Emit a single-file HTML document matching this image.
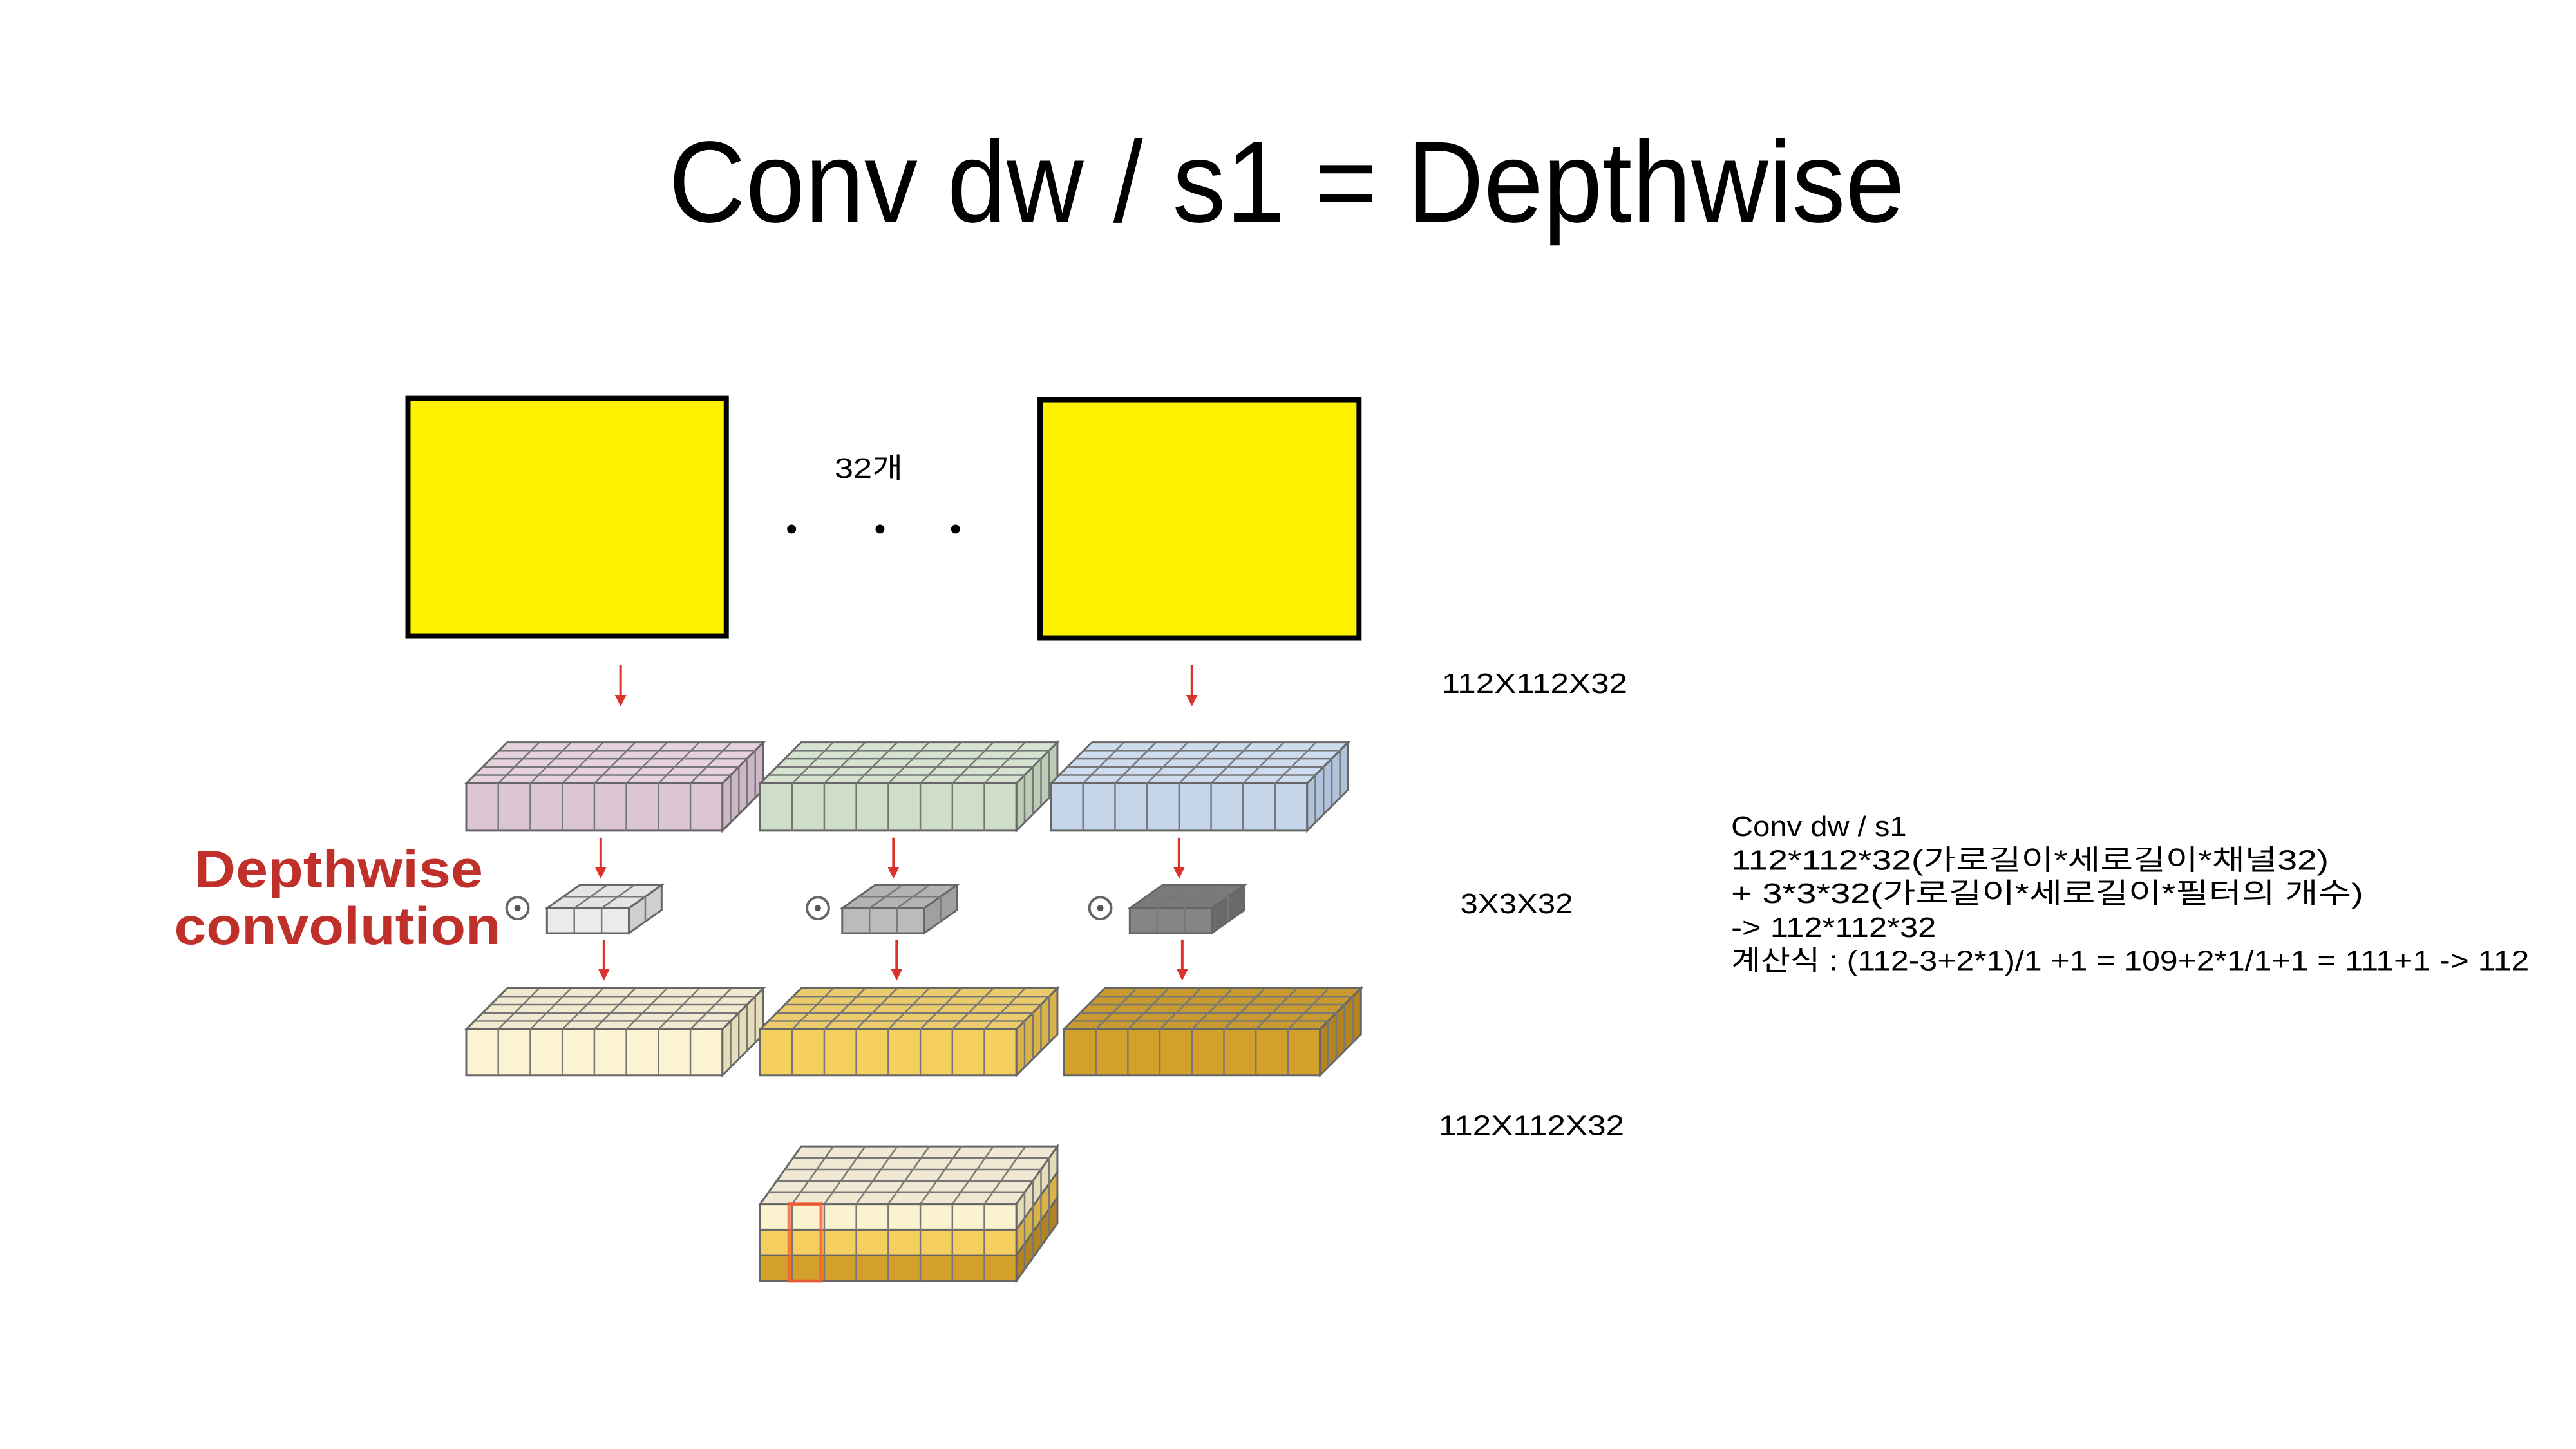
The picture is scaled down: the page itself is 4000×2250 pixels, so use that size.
<!DOCTYPE html>
<html><head><meta charset="utf-8"><style>
html,body{margin:0;padding:0;background:#fff;}
svg{display:block;}
text{font-family:"Liberation Sans","Noto Sans CJK KR",sans-serif;}
</style></head><body>
<svg id="s" width="4000" height="2250" viewBox="0 0 4000 2250" xmlns="http://www.w3.org/2000/svg">
<rect width="4000" height="2250" fill="#fff"/>
<g transform="scale(0.9945)">
<text x="1044" y="346" font-size="180" textLength="1930" lengthAdjust="spacingAndGlyphs" fill="#000">Conv dw / s1 = Depthwise</text>
<rect x="637" y="622" width="497" height="371" fill="#fff200" stroke="#000" stroke-width="8"/>
<rect x="1624" y="624" width="498" height="372" fill="#fff200" stroke="#000" stroke-width="8"/>
<text x="1303" y="746" font-size="44" textLength="107" lengthAdjust="spacingAndGlyphs">32개</text>
<circle cx="1236" cy="826" r="7"/><circle cx="1374" cy="826" r="7"/><circle cx="1492" cy="826" r="7"/>
<text x="2251" y="1082" font-size="44" textLength="290" lengthAdjust="spacingAndGlyphs">112X112X32</text>
<text x="2280" y="1426" font-size="44" textLength="176" lengthAdjust="spacingAndGlyphs">3X3X32</text>
<text x="2246" y="1772" font-size="44" textLength="290" lengthAdjust="spacingAndGlyphs">112X112X32</text>
<g font-size="44" fill="#000">
<text x="2703" y="1305" textLength="274" lengthAdjust="spacingAndGlyphs">Conv dw / s1</text>
<text x="2703" y="1358" textLength="933" lengthAdjust="spacingAndGlyphs">112*112*32(가로길이*세로길이*채널32)</text>
<text x="2703" y="1410" textLength="987" lengthAdjust="spacingAndGlyphs">+ 3*3*32(가로길이*세로길이*필터의 개수)</text>
<text x="2703" y="1463" textLength="320" lengthAdjust="spacingAndGlyphs">-&gt; 112*112*32</text>
<text x="2703" y="1515" textLength="1246" lengthAdjust="spacingAndGlyphs">계산식 : (112-3+2*1)/1 +1 = 109+2*1/1+1 = 111+1 -&gt; 112</text>
</g>
<g font-size="82" font-weight="bold" fill="#c0302a">
<text x="303" y="1385" textLength="451" lengthAdjust="spacingAndGlyphs">Depthwise</text>
<text x="272" y="1474" textLength="510" lengthAdjust="spacingAndGlyphs">convolution</text>
</g>
<g fill="#fff" stroke="#666" stroke-width="4">
<circle cx="808" cy="1418" r="17"/><circle cx="1277" cy="1418" r="17"/><circle cx="1718" cy="1418" r="17"/>
</g>
<g fill="#555"><circle cx="808" cy="1418" r="5"/><circle cx="1277" cy="1418" r="5"/><circle cx="1718" cy="1418" r="5"/></g>
<g id="cubes"></g>
</g>
</svg>
<script>
var NS="http://www.w3.org/2000/svg",g=document.getElementById('cubes');
function el(t,a){var e=document.createElementNS(NS,t);for(var k in a)e.setAttribute(k,a[k]);g.appendChild(e);return e;}
function line(x1,y1,x2,y2,c,w){el('line',{x1:x1,y1:y1,x2:x2,y2:y2,stroke:c||'#777','stroke-width':w||2.5});}
function slab(x,y,w,h,dx,dy,cols,rows,top,fronts,side){
 var layers=fronts.length,lh=h/layers;
 el('polygon',{points:[x,y+dy,x+dx,y,x+w+dx,y,x+w,y+dy].join(' '),fill:top,stroke:'#666','stroke-width':3});
 for(var l=0;l<layers;l++){
  el('rect',{x:x,y:y+dy+l*lh,width:w,height:lh,fill:fronts[l],stroke:'#666','stroke-width':3});
  el('polygon',{points:[x+w,y+dy+l*lh,x+w+dx,y+l*lh,x+w+dx,y+(l+1)*lh,x+w,y+dy+(l+1)*lh].join(' '),fill:side[l]||side[0],stroke:'#666','stroke-width':3});
 }
 for(var i=1;i<cols;i++){var xi=x+i*w/cols;line(xi,y+dy,xi,y+dy+h);line(xi,y+dy,xi+dx,y);}
 for(var j=1;j<rows;j++){var t=j/rows;line(x+dx*t,y+dy-dy*t,x+w+dx*t,y+dy-dy*t);line(x+w+dx*t,y+dy-dy*t,x+w+dx*t,y+dy-dy*t+h);}
}
function arrow(x,y1,y2){line(x,y1,x,y2-14,'#d9342b',4);el('polygon',{points:[x-9,y2-18,x+9,y2-18,x,y2].join(' '),fill:'#d9342b'});}
slab(728,1159,400,74,64,64,8,5,'#e6d2de',['#dcc6d4'],['#cdb6c6']);
slab(1187,1159,400,74,64,64,8,5,'#d6e3cf',['#cfdec8'],['#bccdb5']);
slab(1641,1159,400,74,64,64,8,5,'#cddcee',['#c5d6ea'],['#afc3da']);
slab(854,1382,128,39,51,36,3,2,'#e4e4e6',['#ebebed'],['#cfcfd1']);
slab(1315,1382,128,39,51,36,3,2,'#b3b3b5',['#bbbbbd'],['#a0a0a2']);
slab(1764,1382,128,39,51,36,3,2,'#7a7a7c',['#858587'],['#6a6a6c']);
slab(728,1543,400,72,64,64,8,5,'#f2ead0',['#fbf3d2'],['#e6dcb8']);
slab(1187,1543,400,72,64,64,8,5,'#eccb6c',['#f4cf5f'],['#d9b24a']);
slab(1661,1543,400,72,64,64,8,5,'#c99a30',['#d3a02b'],['#b2831e']);
slab(1187,1790,400,120,64,90,8,5,'#f0e8d2',['#fbf2d0','#f4cf5f','#d3a02b'],['#e6dcb8','#d9b24a','#b2831e']);
el('rect',{x:1232,y:1880,width:50,height:120,fill:'none',stroke:'#ff5a2a','stroke-width':5,opacity:0.8});
arrow(969,1038,1103);arrow(1861,1038,1103);
arrow(938,1308,1372);arrow(1395,1308,1372);arrow(1841,1308,1372);
arrow(943,1467,1531);arrow(1400,1467,1531);arrow(1846,1467,1531);
</script>
</body></html>
